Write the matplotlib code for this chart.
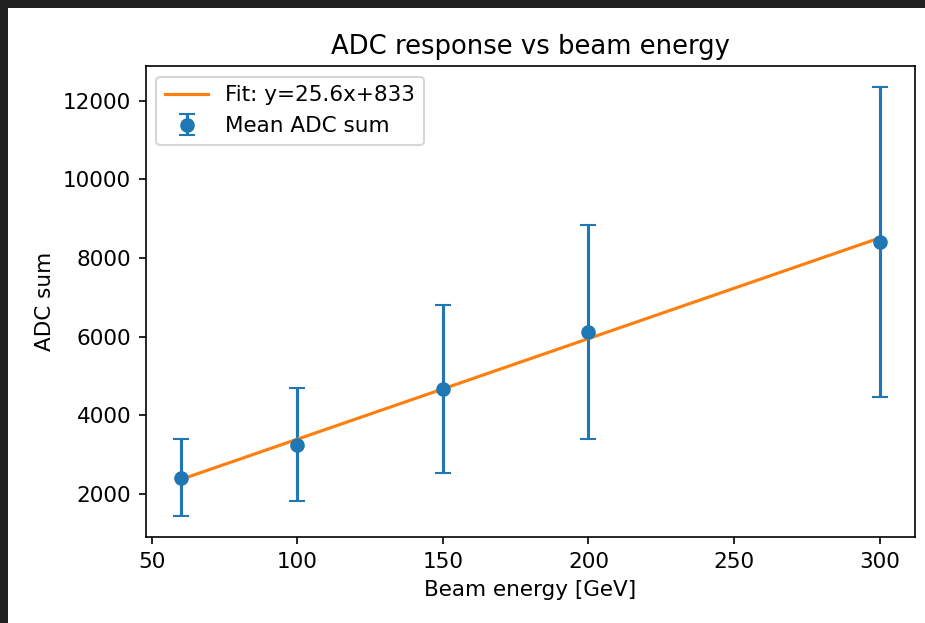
import numpy as np
import matplotlib
matplotlib.use("Agg")
import matplotlib.pyplot as plt
from matplotlib.patches import Rectangle

energy = np.array([60, 100, 150, 200, 300])
adc_mean = np.array([2420, 3260, 4668, 6115, 8400])
adc_err = np.array([975, 1440, 2134, 2715, 3940])

# linear fit quoted in the legend
fit_slope = 25.6
fit_intercept = 833

plt.rcParams["font.size"] = 10.35

W, H, DPI = 926, 623, 150
fig = plt.figure(figsize=(W / DPI, H / DPI), dpi=DPI, facecolor="#212121")
# screenshot frame: dark strip on top and left
fig.patches.append(Rectangle((8 / W, 0), 1 - 8 / W, 1 - 8 / H,
                             transform=fig.transFigure, facecolor="white",
                             edgecolor="none", zorder=-10))

ax = fig.add_axes([145.7 / W, 1 - 537.3 / H,
                   (914.7 - 145.7) / W, (537.3 - 66) / H])

ax.errorbar(energy, adc_mean, yerr=adc_err, fmt="o", capsize=4,
            label="Mean ADC sum")
ax.plot(energy, fit_slope * energy + fit_intercept,
        label=f"Fit: y={fit_slope:.1f}x+{fit_intercept:.0f}")

ax.set_xlabel("Beam energy [GeV]")
ax.set_ylabel("ADC sum")
ax.set_title("ADC response vs beam energy")
ax.legend(loc="upper left")

fig.savefig("out.png", dpi=DPI, facecolor=fig.get_facecolor())
